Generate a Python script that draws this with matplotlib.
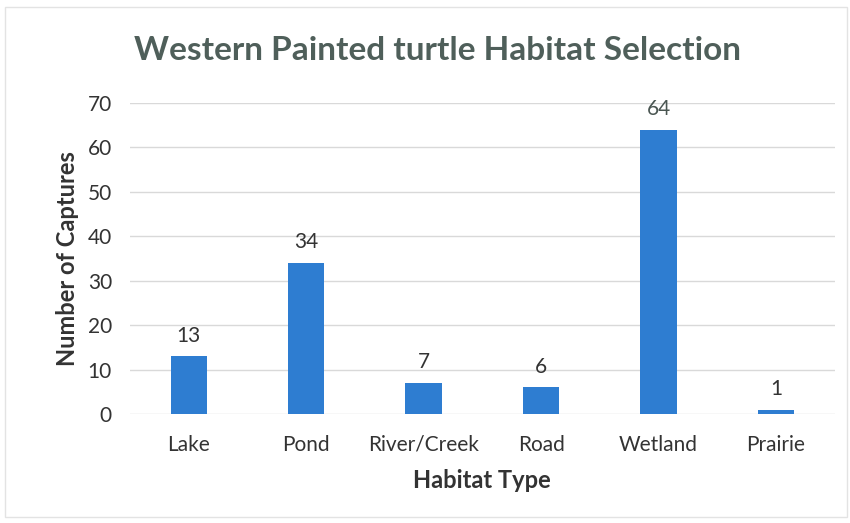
import matplotlib.pyplot as plt
from matplotlib.patches import Rectangle

habitats = ['Lake', 'Pond', 'River/Creek', 'Road', 'Wetland', 'Prairie']
captures = [13, 34, 7, 6, 64, 1]

plt.rcParams['font.family'] = ['Lato', 'DejaVu Sans']

fig = plt.figure(figsize=(8.5, 5.23), dpi=100)
ax = fig.add_axes([0.153, 0.2084, 0.829, 0.5946])

x = range(len(habitats))
ax.bar(x, captures, width=0.31, color='#2E7DD1', zorder=3)

for xi, v in zip(x, captures):
    ax.text(xi, v + 2.4, str(v), ha='center', va='bottom', fontsize=15,
            color='#4a5652' if v == max(captures) else '#333333')

ax.set_xlim(-0.5, len(habitats) - 0.5)
ax.set_ylim(0, 70)
ax.set_yticks(range(0, 71, 10))
ax.set_xticks(list(x))
ax.set_xticklabels(habitats)
ax.tick_params(axis='both', length=0, labelsize=15, colors='#333333')
ax.tick_params(axis='x', pad=15)
ax.tick_params(axis='y', pad=13)

ax.grid(axis='y', color='#d9d9d9', linewidth=1, zorder=0)
for side in ['top', 'right', 'left', 'bottom']:
    ax.spines[side].set_visible(False)

ax.set_xlabel('Habitat Type', fontsize=17, fontweight='bold', color='#333333', labelpad=10)
ax.set_ylabel('Number of Captures', fontsize=17, fontweight='bold', color='#333333', labelpad=6)

fig.text(0.515, 0.904, 'Western Painted turtle Habitat Selection', ha='center', va='center',
         fontsize=24, fontweight='bold', color='#4f5f5a')

fig.patches.append(Rectangle((0.006, 0.012), 0.99, 0.975, transform=fig.transFigure,
                             fill=False, edgecolor='#e3e3e3', linewidth=1))

fig.savefig('out.png', dpi=100)
